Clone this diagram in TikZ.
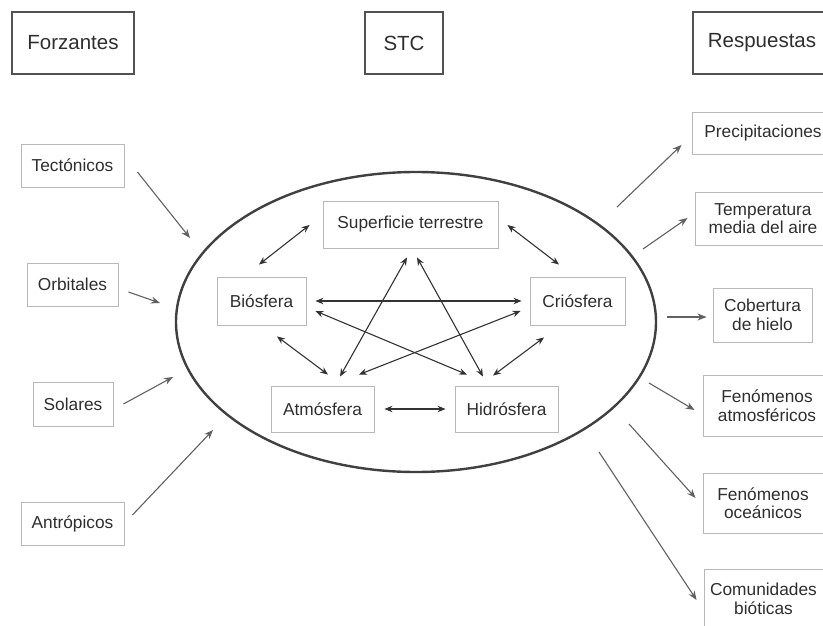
\documentclass[tikz,border=0pt]{standalone}
\usepackage{fontspec}
\setmainfont{Liberation Sans}
\usetikzlibrary{arrows.meta,calc,shapes.geometric}
\newcommand{\boxfont}{\fontsize{17.3}{18.5}\selectfont}
\newcommand{\headfont}{\fontsize{20.5}{22}\selectfont}
\begin{document}
\begin{tikzpicture}[x=1pt,y=-1pt,
  box/.style={draw=black!28, line width=0.9pt, text=black!82, font=\boxfont, inner sep=0pt, align=center},
  headbox/.style={draw=black!68, line width=2.6pt, text=black!82, font=\headfont, inner sep=0pt},
  dar/.style={draw=black!80, line width=1.1pt, {Stealth[length=8pt,width=6.5pt]}-{Stealth[length=8pt,width=6.5pt]}},
  sar/.style={draw=black!62, line width=1.1pt, -{Stealth[length=9pt,width=7pt]}}]
\path[use as bounding box] (0,0) rectangle (823,626);
\clip (0,0) rectangle (823,626);
% headers
\node[headbox, minimum width=122pt, minimum height=62pt] (hforz) at (73,43) {Forzantes};
\node[headbox, minimum width=78pt, minimum height=62pt] (hstc) at (404,43) {STC};
\node[headbox, minimum width=138pt, minimum height=62pt] (hresp) at (762,43) {Respuestas};
% ellipse
\node[draw=black!75, line width=2.4pt, ellipse, minimum width=480pt, minimum height=300pt, inner sep=0pt] (stc) at (416,322) {};
% left boxes
\node[box, minimum width=103pt, minimum height=43pt] (tect) at (72.5,165.5) {Tectónicos};
\node[box, minimum width=91pt, minimum height=43pt] (orb) at (72.5,284.5) {Orbitales};
\node[box, minimum width=80pt, minimum height=44pt] (sol) at (73,404) {Solares};
\node[box, minimum width=103pt, minimum height=43pt] (ant) at (72.5,523.5) {Antrópicos};
% inner boxes
\node[box, minimum width=175pt, minimum height=47pt] (sup) at (410.5,224.5) {Superficie terrestre};
\node[box, minimum width=89pt, minimum height=48pt] (bio) at (261.5,301) {Biósfera};
\node[box, minimum width=95pt, minimum height=48pt] (crio) at (577.5,301) {Criósfera};
\node[box, minimum width=103pt, minimum height=46pt] (atmo) at (322.5,409) {Atmósfera};
\node[box, minimum width=103pt, minimum height=46pt] (hidro) at (506.5,409) {Hidrósfera};
% right boxes
\node[box, minimum width=142pt, minimum height=42pt] (prec) at (763,133) {Precipitaciones};
\node[box, minimum width=136pt, minimum height=53pt] (temp) at (763,218.5) {Temperatura\\media del aire};
\node[box, minimum width=99pt, minimum height=54pt] (cob) at (762.5,315) {Cobertura\\de hielo};
\node[box, minimum width=128pt, minimum height=61pt] (fena) at (767,405.5) {Fenómenos\\atmosféricos};
\node[box, minimum width=120pt, minimum height=60pt] (feno) at (763,503) {Fenómenos\\oceánicos};
\node[box, minimum width=119pt, minimum height=60pt] (com) at (763.5,599) {Comunidades\\bióticas};
% inner arrows
\draw[dar] ($(sup.west)+(-13,0.5)$) -- ($(bio.north)+(-2.5,-12)$);
\draw[dar] ($(sup.east)+(9,0.5)$) -- ($(crio.north)+(-18.5,-12)$);
\draw[dar] ($(bio.east)+(9,0)$) -- ($(crio.west)+(-8,0)$);
\draw[dar] ($(bio.east)+(9,10)$) -- ($(hidro.north)+(-39.5,-11)$);
\draw[dar] ($(crio.west)+(-9,10)$) -- ($(atmo.north)+(36.5,-11)$);
\draw[dar] ($(sup.south)+(-3.5,9)$) -- ($(atmo.north)+(17.5,-9)$);
\draw[dar] ($(sup.south)+(6.5,9)$) -- ($(hidro.north)+(-23.5,-9)$);
\draw[dar] ($(bio.south)+(15.5,11)$) -- ($(atmo.north)+(5.5,-11)$);
\draw[dar] ($(crio.south)+(-33.5,12)$) -- ($(hidro.north)+(-13.5,-10)$);
\draw[dar] ($(atmo.east)+(10,0)$) -- ($(hidro.west)+(-9,0)$);
% forcing arrows
\draw[sar] ($(tect.east)+(13,6.5)$) -- ($(stc.center)+(-226,-84)$);
\draw[sar] ($(orb.east)+(10,7.5)$) -- ($(stc.center)+(-256,-19)$);
\draw[sar] ($(sol.east)+(10,0)$) -- ($(stc.center)+(-243,55)$);
\draw[sar] ($(ant.east)+(8,-8.5)$) -- ($(stc.center)+(-203,108)$);
% response arrows
\draw[sar] ($(stc.center)+(201,-115)$) -- ($(prec.west)+(-10,12)$);
\draw[sar] ($(stc.center)+(227,-73)$) -- ($(temp.west)+(-7,-0.5)$);
\draw[sar] ($(stc.center)+(251,-5)$) -- ($(cob.west)+(-6,2)$);
\draw[sar] ($(stc.center)+(233,61)$) -- ($(fena.west)+(-8,4.5)$);
\draw[sar] ($(stc.center)+(213,102)$) -- ($(feno.west)+(-7,-5)$);
\draw[sar] ($(stc.center)+(183,130)$) -- ($(com.west)+(-7,1)$);
\end{tikzpicture}
\end{document}
